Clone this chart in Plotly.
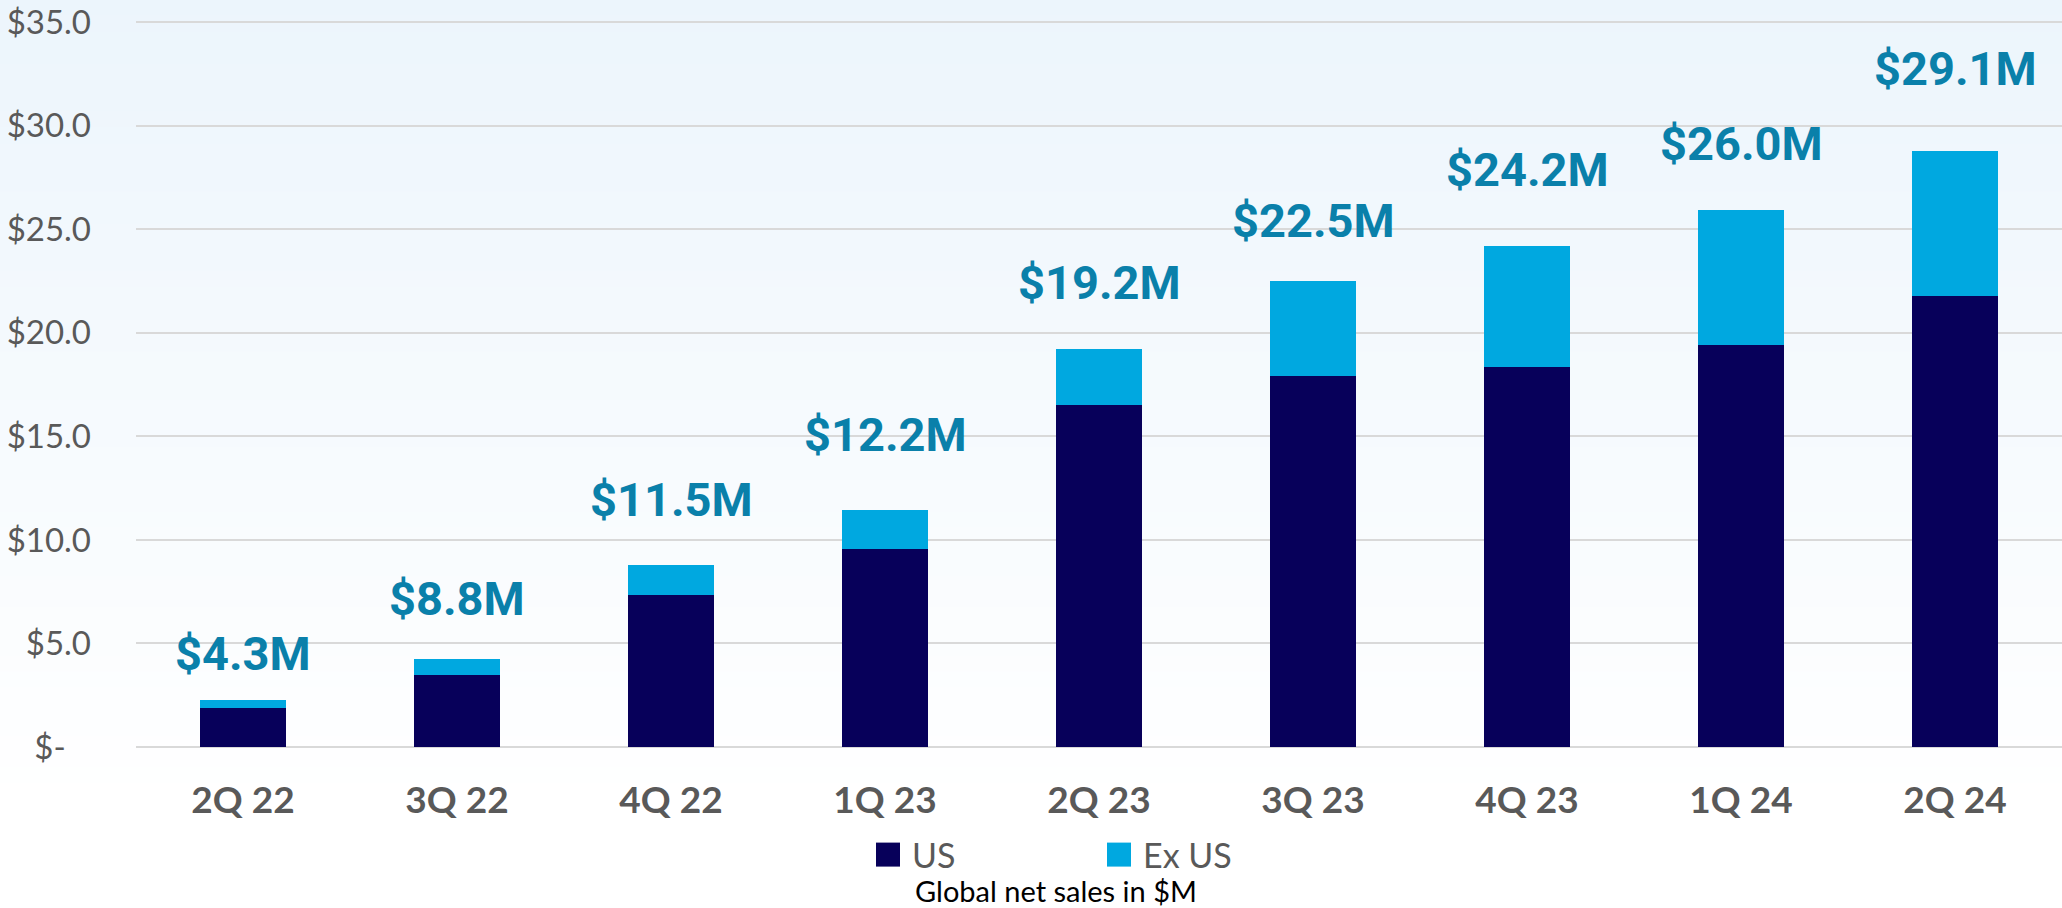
import plotly.graph_objects as go

# ---------------- data ----------------
quarters = ["2Q 22", "3Q 22", "4Q 22", "1Q 23", "2Q 23", "3Q 23", "4Q 23", "1Q 24", "2Q 24"]
us_sales = [1.90, 3.50, 7.35, 9.56, 16.53, 17.93, 18.34, 19.43, 21.80]
ex_us_sales = [0.39, 0.74, 1.42, 1.88, 2.68, 4.56, 5.88, 6.52, 6.99]
total_labels = ["$4.3M", "$8.8M", "$11.5M", "$12.2M", "$19.2M", "$22.5M", "$24.2M", "$26.0M", "$29.1M"]
label_y = [4.50, 7.17, 11.94, 15.11, 22.44, 25.42, 27.87, 29.16, 32.79]
y_tickvals = [0, 5, 10, 15, 20, 25, 30, 35]
y_ticktext = ["$-\u00a0\u00a0\u00a0", "$5.0", "$10.0", "$15.0", "$20.0", "$25.0", "$30.0", "$35.0"]

# ---------------- styling ----------------
W, H = 2062, 908
M_L, M_R, M_T, M_B = 136, 0, 12, 161
PLOT_H = H - M_T - M_B
US_COLOR = "#07005A"
EXUS_COLOR = "#00A8E0"
LABEL_COLOR = "#0A80AA"
GREY = "#595959"

fig = go.Figure()
fig.add_trace(go.Bar(x=quarters, y=us_sales, name="US",
                     marker=dict(color=US_COLOR, line=dict(width=0))))
fig.add_trace(go.Bar(x=quarters, y=ex_us_sales, name="Ex US",
                     marker=dict(color=EXUS_COLOR, line=dict(width=0))))

annotations = []
for q, t, yv in zip(quarters, total_labels, label_y):
    annotations.append(dict(x=q, y=yv, xref="x", yref="y", text=t, showarrow=False,
                            yanchor="middle", xanchor="center",
                            font=dict(family="Roboto", size=47, color=LABEL_COLOR, weight="bold")))


def py(px):
    """pixel row from top -> paper y"""
    return (H - M_B - px) / PLOT_H


annotations.append(dict(x=(1056 - M_L) / (W - M_L - M_R), y=py(891), xref="paper", yref="paper",
                        text="Global net sales in $M", showarrow=False,
                        xanchor="center", yanchor="middle",
                        font=dict(family="Lato", size=29, color="#000000")))

# soft vertical background gradient
shapes = []
n_bands = 50
top_rgb = (236, 245, 252)
bot_rgb = (255, 255, 255)
grad_end = 800
for i in range(n_bands):
    y0p = grad_end * i / n_bands
    y1p = grad_end * (i + 1) / n_bands
    f = (i + 0.5) / n_bands
    c = tuple(round(top_rgb[k] + (bot_rgb[k] - top_rgb[k]) * f) for k in range(3))
    shapes.append(dict(type="rect", xref="paper", yref="paper",
                       x0=-0.1, x1=1.05, y0=py(y1p + 0.5), y1=py(y0p - 0.5),
                       fillcolor="rgb(%d,%d,%d)" % c, line=dict(width=0), layer="below"))

fig.update_layout(
    width=W, height=H, autosize=False,
    margin=dict(l=M_L, r=M_R, t=M_T, b=M_B, pad=0),
    barmode="stack", bargap=0.6,
    paper_bgcolor="#FFFFFF", plot_bgcolor="rgba(0,0,0,0)",
    font=dict(family="Lato", color=GREY),
    showlegend=True,
    legend=dict(orientation="h", x=(872 - M_L) / (W - M_L - M_R), xanchor="left",
                y=py(855), yanchor="middle", bgcolor="rgba(0,0,0,0)",
                entrywidth=186, entrywidthmode="pixels", traceorder="normal",
                font=dict(family="Lato", size=34, color=GREY)),
    annotations=annotations,
    shapes=shapes,
    xaxis=dict(showgrid=False, showline=False, zeroline=False, ticks="",
               tickfont=dict(family="Lato", size=37, color=GREY, weight="bold"),
               ticklabelstandoff=28, range=[-0.5, 8.5]),
    yaxis=dict(range=[0, 35.5], tickvals=y_tickvals, ticktext=y_ticktext,
               showgrid=True, gridcolor="#D9D9D9", gridwidth=1.5,
               zeroline=True, zerolinecolor="#D9D9D9", zerolinewidth=1.5,
               showline=False, ticks="",
               tickfont=dict(family="Lato", size=33, color=GREY),
               ticklabelstandoff=44),
)

post = """
document.body.style.margin = '0';
document.body.style.overflow = 'hidden';
var gd = document.getElementsByClassName('plotly-graph-div')[0];
gd.querySelectorAll('.legendpoints path').forEach(function(p){
  p.setAttribute('d', 'M8,12H-16V-12H8Z');
});
"""
fig.write_html("out.html", post_script=post, config={"displayModeBar": False})
